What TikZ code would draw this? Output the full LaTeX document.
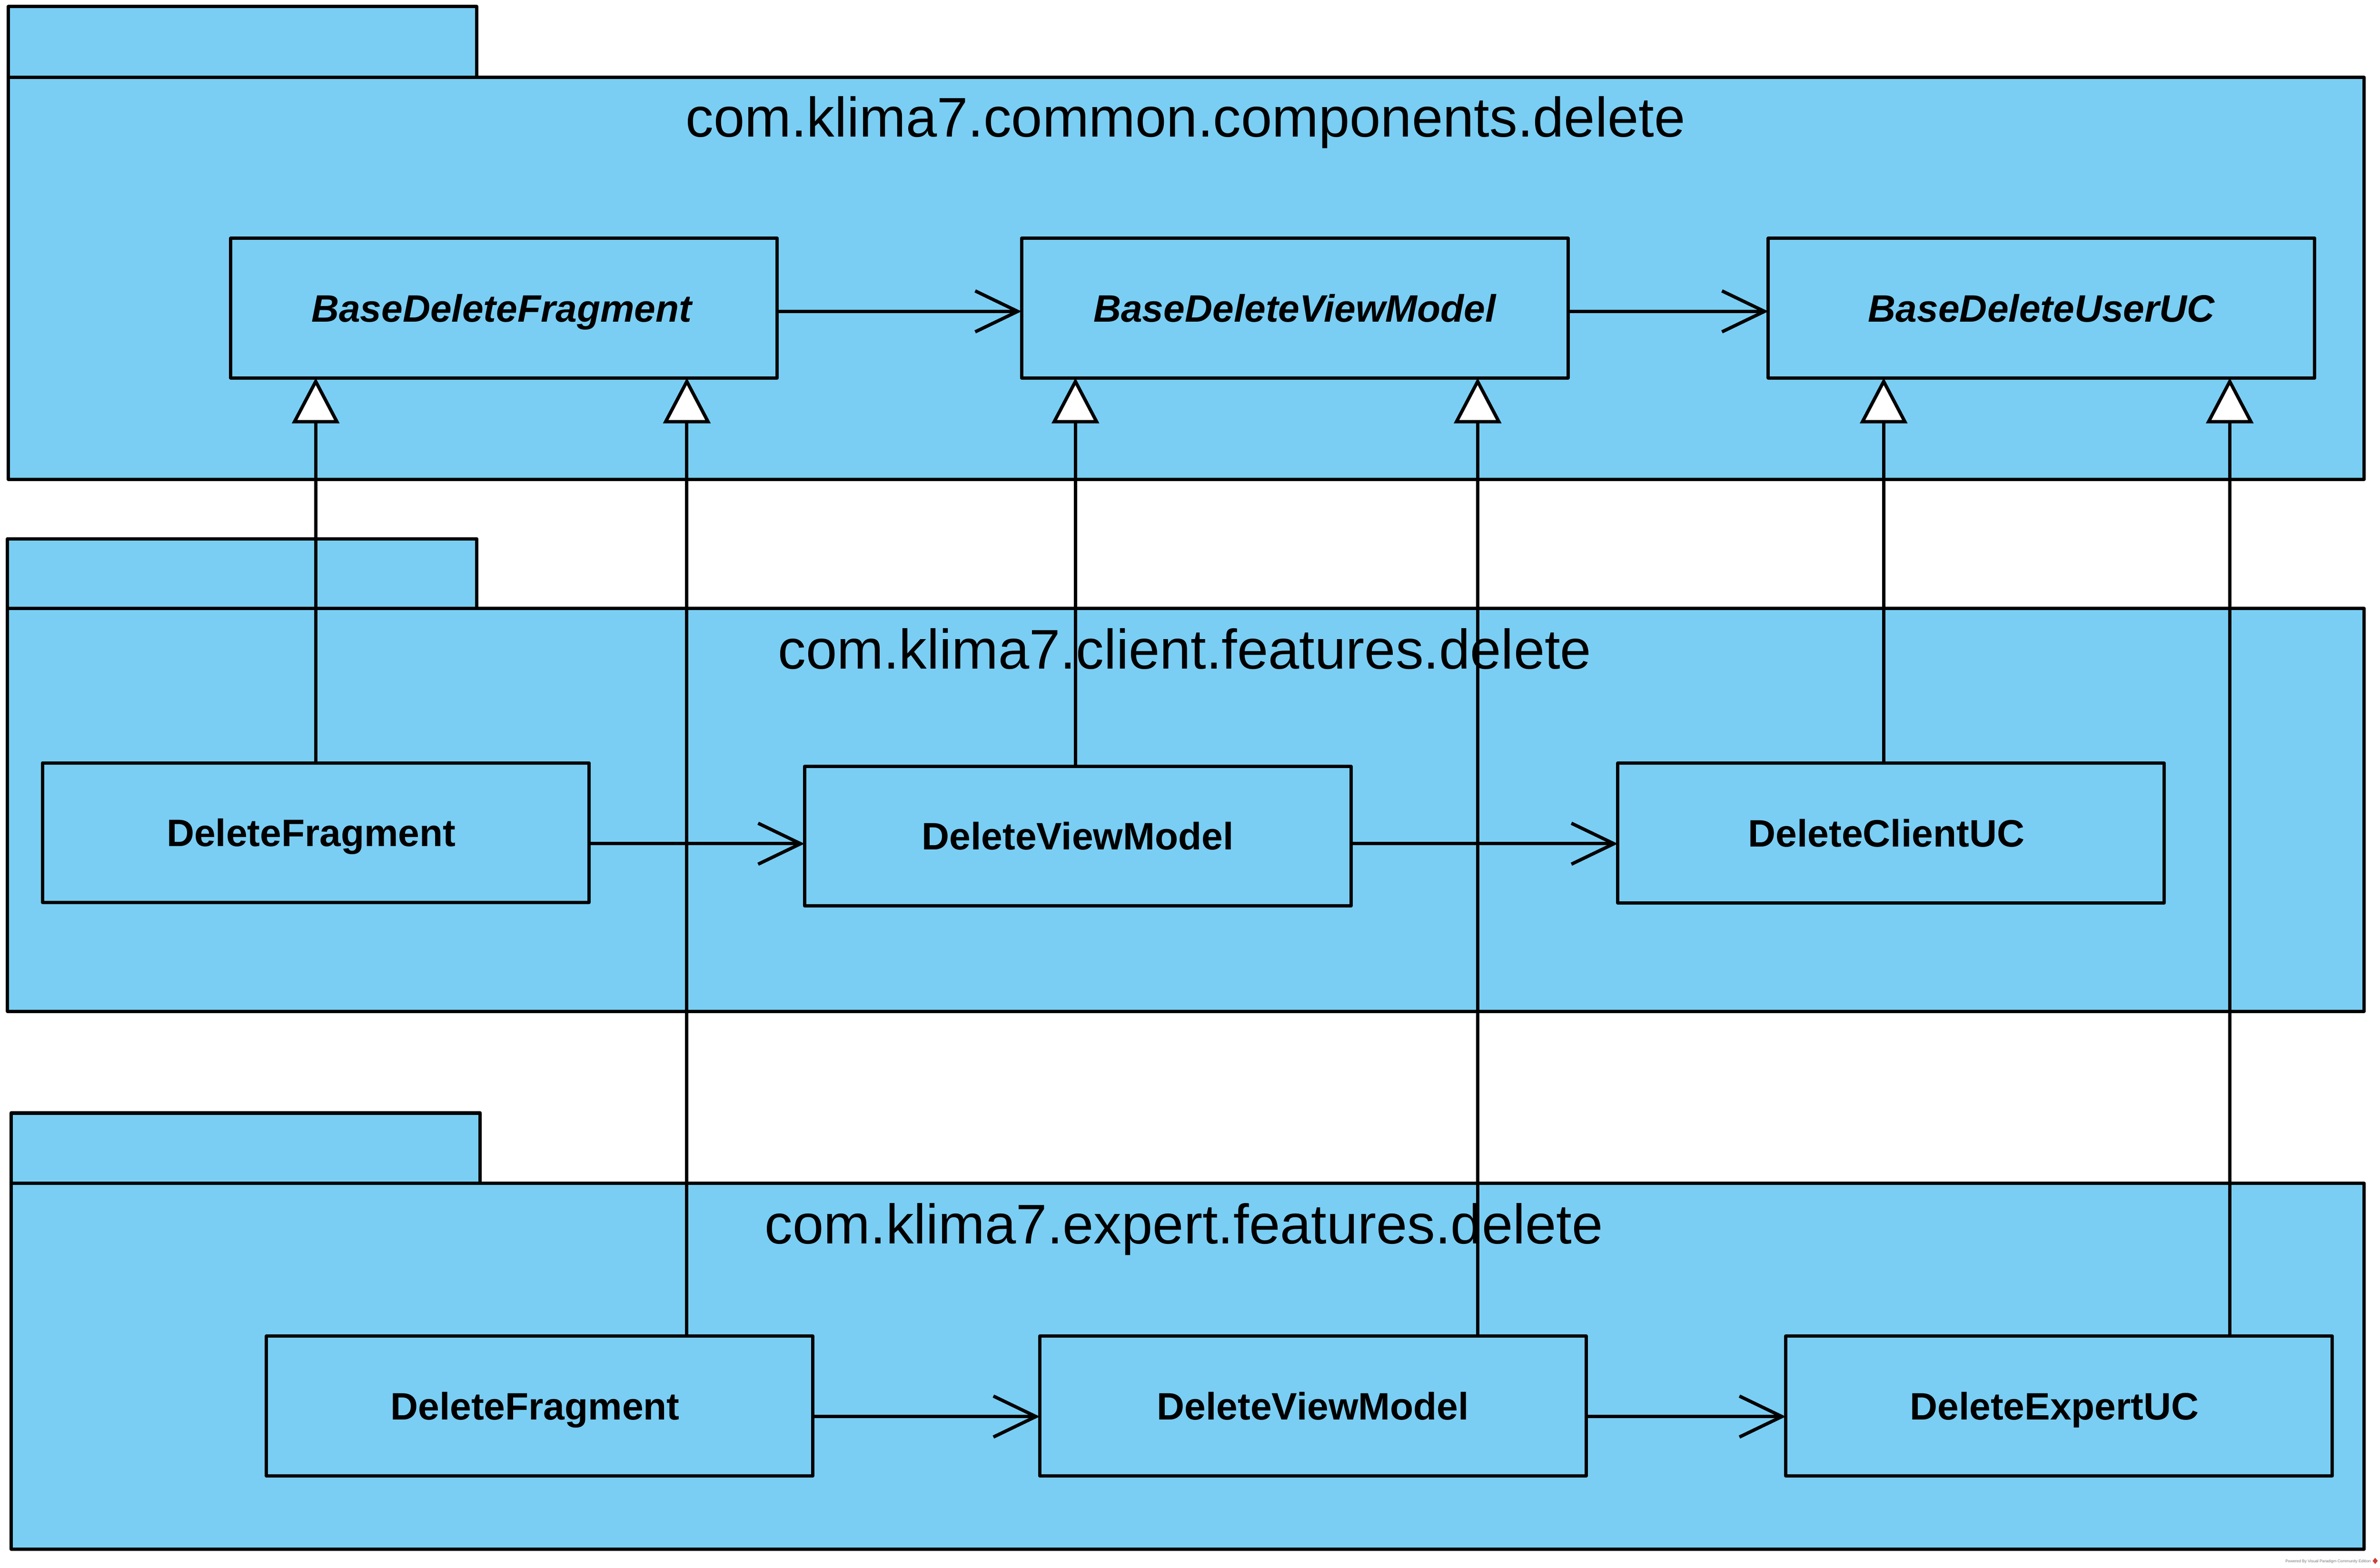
\documentclass[tikz,border=0pt]{standalone}
\usepackage{fontspec}
\setmainfont{Liberation Sans}
\usetikzlibrary{arrows.meta}
\definecolor{pkgblue}{RGB}{122,206,244}
\definecolor{wmgray}{RGB}{120,120,120}
\definecolor{wmred}{RGB}{205,60,60}
\begin{document}
\begin{tikzpicture}[x=1pt,y=-1pt,
  pkg/.style={draw=black,fill=pkgblue,line width=2.2pt,line join=round},
  cls/.style={draw=black,fill=pkgblue,line width=2.2pt,line join=round,rectangle,
    inner sep=0pt,outer sep=0pt,minimum width=360pt,minimum height=92pt,
    font=\fontsize{25.2}{30}\selectfont\bfseries,text height=18pt,text depth=0pt},
  abscls/.style={cls,font=\fontsize{25.2}{30}\selectfont\bfseries\itshape},
  ptitle/.style={anchor=base,inner sep=0pt,font=\fontsize{36.8}{44}\selectfont},
  gen/.style={draw=black,line width=2.2pt,
    -{Triangle[length=30pt,width=31pt,fill=white]}},
  assoc/.style={draw=black,line width=2.2pt,
    -{Straight Barb[length=28pt,width=27pt]}},
]
\useasboundingbox (0,0) rectangle (1568,1033);
\fill[white] (0,0) rectangle (1568,1033);

% packages
\draw[pkg] (5.4,4.3) rectangle (314,51);
\draw[pkg] (5.4,51) rectangle (1557.6,315.8);
\draw[pkg] (5,355) rectangle (314,401);
\draw[pkg] (5,401) rectangle (1557.6,666.4);
\draw[pkg] (7.3,733.5) rectangle (316.4,779.8);
\draw[pkg] (7.3,779.8) rectangle (1557.6,1020.8);

\node[ptitle] (t1) at (781,90.2) {com.klima7.common.components.delete};
\node[ptitle] (t2) at (780.5,440.7) {com.klima7.client.features.delete};
\node[ptitle] (t3) at (780,819.5) {com.klima7.expert.features.delete};

% classes
\node[abscls] (bdf)  at (332,203)   {\hspace*{-3pt}BaseDeleteFragment};
\node[abscls] (bdvm) at (853,203)   {BaseDeleteViewModel};
\node[abscls] (bduc) at (1345,203)  {BaseDeleteUserUC};

\node[cls] (df1)  at (208,548.7)    {\hspace*{-6pt}DeleteFragment};
\node[cls] (dvm1) at (710,551)      {DeleteViewModel};
\node[cls] (dcuc) at (1245.8,549)   {\hspace*{-6pt}DeleteClientUC};

\node[cls] (df2)  at (355.5,926.5)  {\hspace*{-6pt}DeleteFragment};
\node[cls] (dvm2) at (865,926.5)    {DeleteViewModel};
\node[cls] (deuc) at (1356.5,926.5) {\hspace*{-6pt}DeleteExpertUC};

% associations
\draw[assoc] (bdf.east |- 0,205.2) -- (bdvm.west |- 0,205.2);
\draw[assoc] (bdvm.east |- 0,205.2) -- (bduc.west |- 0,205.2);
\draw[assoc] (df1.east |- 0,556) -- (dvm1.west |- 0,556);
\draw[assoc] (dvm1.east |- 0,556) -- (dcuc.west |- 0,556);
\draw[assoc] (df2.east |- 0,933.5) -- (dvm2.west |- 0,933.5);
\draw[assoc] (dvm2.east |- 0,933.5) -- (deuc.west |- 0,933.5);

% generalizations
\draw[gen] (df1.north -| 208,0) -- (bdf.south -| 208,0);
\draw[gen] (df2.north -| 452.5,0) -- (bdf.south -| 452.5,0);
\draw[gen] (dvm1.north -| 708.5,0) -- (bdvm.south -| 708.5,0);
\draw[gen] (dvm2.north -| 973.5,0) -- (bdvm.south -| 973.5,0);
\draw[gen] (dcuc.north -| 1241,0) -- (bduc.south -| 1241,0);
\draw[gen] (deuc.north -| 1469,0) -- (bduc.south -| 1469,0);

% watermark
\node[anchor=base west,inner sep=0pt,text=wmgray,font=\fontsize{2.6}{3}\selectfont] (wm) at (1505.5,1029.8) {Powered By Visual Paradigm Community Edition};
\fill[wmred] (1564.8,1026.6) -- (1566.5,1028.6) -- (1564.8,1030.7) -- (1563.1,1028.6) -- cycle;
\end{tikzpicture}
\end{document}
